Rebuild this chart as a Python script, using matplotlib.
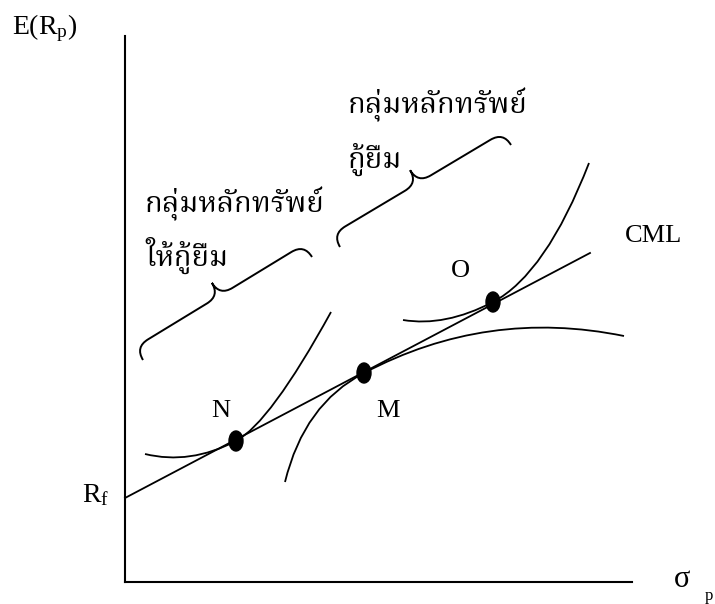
import matplotlib
matplotlib.use("Agg")
import matplotlib.pyplot as plt
import numpy as np
from matplotlib.path import Path
from matplotlib.patches import PathPatch, Ellipse
from matplotlib import font_manager
from matplotlib.ft2font import FT2Font

# everything is laid out in the pixel space of the original drawing (y grows downward)
W, H = 715, 604

origin = (125, 582)
y_axis_top = 36
x_axis_right = 632

rf_y = 498
cml_end = (590, 253)

# tangency points on the CML
point_names = ["N", "M", "O"]
point_xy = [(236, 441), (364, 373), (493, 302)]
label_xy = [(221, 417), (388, 417), (460, 277)]

# quadratic bezier chains: start, ctrl, mid, ctrl, end
lender_curve = [(145, 454), (190, 465), (236, 441), (270, 423), (331, 312)]
frontier = [(285, 482), (304, 404), (364, 373), (487, 308), (624, 336)]
borrower_curve = [(403, 320), (445, 327), (493, 302), (546, 274), (589, 163)]

# curly braces (end points), tip on the upper-left side
brace_lend = [(143, 360), (312, 257)]
brace_borrow = [(340, 247), (511, 145)]

thai_labels = ["กลุ่มหลักทรัพย์", "ให้กู้ยืม", "กลุ่มหลักทรัพย์", "กู้ยืม"]
thai_xy = [(145, 212), (145, 266), (348, 113), (348, 168)]


def thai_family():
    pref = ["Noto Serif Thai", "Noto Sans Thai", "Norasi", "Kinnari", "Loma", "Garuda", "Tlwg Typo"]
    found = {}
    for f in font_manager.fontManager.ttflist:
        try:
            if FT2Font(f.fname).get_char_index(ord("ก")):
                found.setdefault(f.name, f.fname)
        except Exception:
            pass
    for name in pref:
        if name in found:
            return name
    return next(iter(found), "DejaVu Sans")


serif = "Liberation Serif"
plt.rcParams["mathtext.fontset"] = "custom"
plt.rcParams["mathtext.rm"] = serif
plt.rcParams["mathtext.it"] = serif
thai = thai_family()

fig = plt.figure(figsize=(W / 100, H / 100), dpi=100)
ax = fig.add_axes([0, 0, 1, 1])
ax.set_xlim(0, W)
ax.set_ylim(H, 0)
ax.axis("off")

lw = 1.5
# axes
ax.plot([origin[0], origin[0]], [y_axis_top, origin[1]], color="black", lw=lw)
ax.plot([origin[0], x_axis_right], [origin[1], origin[1]], color="black", lw=lw)

# capital market line
ax.plot([origin[0], cml_end[0]], [rf_y, cml_end[1]], color="black", lw=1.3)


def bezier_chain(pts):
    codes = [Path.MOVETO] + [Path.CURVE3] * (len(pts) - 1)
    return PathPatch(Path(pts, codes), fill=False, lw=1.3, color="black")


for c in (lender_curve, frontier, borrower_curve):
    ax.add_patch(bezier_chain(c))


def brace(p0, p1, depth=30, hook=15):
    p0, p1 = np.array(p0, float), np.array(p1, float)
    L = np.linalg.norm(p1 - p0)
    u = (p1 - p0) / L
    n = np.array([u[1], -u[0]])
    h = depth / 2
    local = [(0, 0), (0, h), (hook, h), (L / 2 - hook, h), (L / 2, h), (L / 2, depth),
             (L / 2, h), (L / 2 + hook, h), (L - hook, h), (L, h), (L, 0)]
    codes = [Path.MOVETO, Path.CURVE3, Path.CURVE3, Path.LINETO, Path.CURVE3, Path.CURVE3,
             Path.CURVE3, Path.CURVE3, Path.LINETO, Path.CURVE3, Path.CURVE3]
    verts = [p0 + a * u + b * n for a, b in local]
    return PathPatch(Path(verts, codes), fill=False, lw=1.4, color="black")


ax.add_patch(brace(*brace_lend))
ax.add_patch(brace(*brace_borrow))

for (x, y) in point_xy:
    ax.add_patch(Ellipse((x, y), 14, 20, color="black", zorder=5))

for name, (x, y) in zip(point_names, label_xy):
    ax.text(x, y, name, fontsize=19, family=serif, ha="center", va="baseline")

ax.text(625, 242, "CML", fontsize=19, family=serif, ha="left", va="baseline")
ax.text(12, 34, r"$\mathrm{E(R_p)}$", fontsize=20, ha="left", va="baseline")
ax.text(82, 502, r"$\mathrm{R_f}$", fontsize=20, ha="left", va="baseline")
ax.text(674, 587, "σ", fontsize=22, family=serif, ha="left", va="baseline")
ax.text(705, 600, "p", fontsize=12, family=serif, ha="left", va="baseline")

for s, (x, y) in zip(thai_labels, thai_xy):
    ax.text(x, y, s, fontsize=21, family=[thai, "DejaVu Sans"], ha="left", va="baseline")

fig.savefig("out.png", dpi=100)
